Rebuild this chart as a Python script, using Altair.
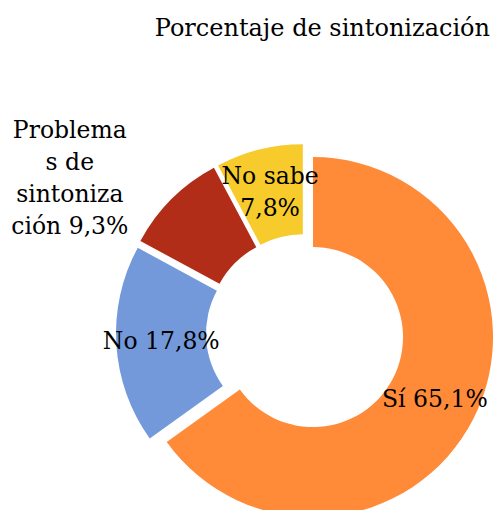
import math
import altair as alt
import pandas as pd

# ---- data ----
categories = ["Sí", "No", "Problemas de sintonización", "No sabe"]
values = [65.1, 17.8, 9.3, 7.8]
labels = ["Sí 65,1%", "No 17,8%", "Problema\ns de\nsintoniza\nción 9,3%", "No sabe\n7,8%"]
colors = ["#FF8A38", "#7399DA", "#B22D18", "#F6CB2B"]
title_text = "Porcentaje de sintonización"

# ---- layout / style ----
W, H = 494, 510
CX, CY = 305, 333          # pie centre in pixels
R_OUT, R_IN = 180, 90
EXPLODE = 9
LABEL_R = [146, 144, 281, 144]
LABEL_SHIFT_DEG = [0, 0, -12, 0]
FONT = "DejaVu Serif"
LABEL_SIZE = 23.5
LINE_H = 32

total = sum(values)
rows = []
acc = 0.0
for i, (c, v) in enumerate(zip(categories, values)):
    t0 = acc / total * 2 * math.pi
    acc += v
    t1 = acc / total * 2 * math.pi
    mid = (t0 + t1) / 2
    lm = mid + math.radians(LABEL_SHIFT_DEG[i])
    nlines = labels[i].count("\n") + 1
    rows.append({
        "cat": c, "val": v, "label": labels[i], "order": i,
        "t0": t0, "t1": t1,
        "cx": CX + EXPLODE * math.sin(mid),
        "cy": CY - EXPLODE * math.cos(mid),
        "lx": CX + LABEL_R[i] * math.sin(lm),
        "ly": CY - LABEL_R[i] * math.cos(lm) - (nlines - 1) * LINE_H / 2,
    })
df = pd.DataFrame(rows)

color_scale = alt.Scale(domain=categories, range=colors)

arcs = alt.Chart(df).mark_arc(radius=R_OUT, radius2=R_IN).encode(
    theta=alt.Theta("t0:Q", scale=None),
    theta2="t1:Q",
    x=alt.X("cx:Q", scale=None, axis=None),
    y=alt.Y("cy:Q", scale=None, axis=None),
    color=alt.Color("cat:N", scale=color_scale, legend=None),
)

texts = alt.Chart(df).mark_text(
    font=FONT, fontSize=LABEL_SIZE, lineBreak="\n", lineHeight=LINE_H,
    align="center", baseline="middle", color="black",
).encode(
    x=alt.X("lx:Q", scale=None, axis=None),
    y=alt.Y("ly:Q", scale=None, axis=None),
    text="label:N",
)

title = alt.Chart(pd.DataFrame({"t": [title_text]})).mark_text(
    font=FONT, fontSize=24, align="right", baseline="alphabetic", color="black",
).encode(
    x=alt.value(490), y=alt.value(36), text="t:N",
)

chart = alt.layer(arcs, texts, title).properties(
    width=W, height=H,
    autosize=alt.AutoSizeParams(type="none"),
    padding=0,
    background="white",
).configure_view(stroke=None)

chart.save("out.html", embed_options={"renderer": "svg", "actions": False})
